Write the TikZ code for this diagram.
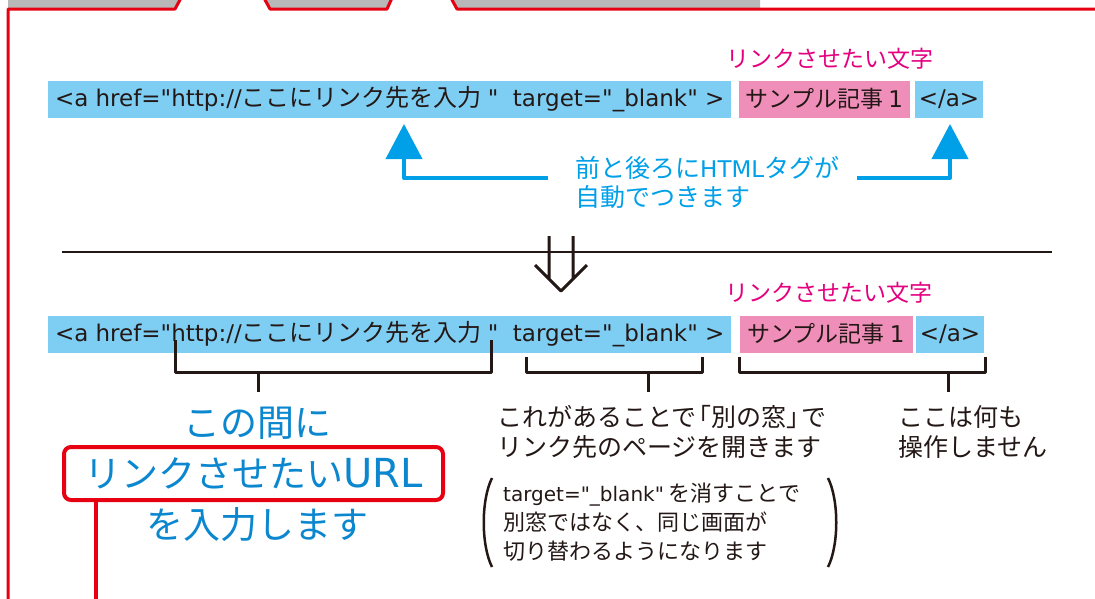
\documentclass[tikz,border=0pt]{standalone}
\usepackage{fontspec}
\setmainfont{Noto Sans CJK JP}
\newfontfamily\lat{DejaVu Sans}
\usetikzlibrary{arrows.meta,positioning}

\definecolor{codeblue}{HTML}{7ECEF4}
\definecolor{codepink}{HTML}{EF8FB9}
\definecolor{inkblack}{HTML}{231815}
\definecolor{linkmagenta}{HTML}{E4007F}
\definecolor{arrowcyan}{HTML}{00A0E9}
\definecolor{bigblue}{HTML}{0B87CF}
\definecolor{framered}{HTML}{E60012}

\newcommand{\latsize}{\fontsize{23pt}{28pt}\selectfont}

\begin{document}
\begin{tikzpicture}[x=1pt,y=-1pt,line join=round,
	codebar/.style={fill=codeblue,inner xsep=7pt,inner ysep=0pt,minimum height=37pt,text=inkblack,font=\fontsize{24pt}{28pt}\selectfont},
	pinkbar/.style={codebar,fill=codepink,inner xsep=3pt,font=\fontsize{23pt}{28pt}\selectfont},
	wishlabel/.style={text=linkmagenta,font=\fontsize{23pt}{26pt}\selectfont,inner sep=0pt},
	inkline/.style={draw=inkblack,line width=3pt},
	linkarrow/.style={draw=arrowcyan,line width=4pt,-{Triangle[length=35pt,width=36pt]}},
	explain/.style={text=inkblack,align=left,inner sep=0pt,font=\fontsize{25pt}{30pt}\selectfont},
	bigtext/.style={text=bigblue,inner sep=0pt,font=\fontsize{37pt}{44pt}\selectfont}]
	\useasboundingbox[fill=white] (0,0) rectangle (1095,598);
	
	% tabs of the window above
	\fill[black!28] (8,0) -- (181,0) -- (175,9) -- (8,9) -- cycle;
	\fill[black!28] (265,0) -- (390,0) -- (387,9) -- (270,9) -- cycle;
	\fill[black!28] (452,0) -- (760,0) -- (760,9) -- (457,9) -- cycle;
	\draw[framered,line width=3pt] (8,610) -- (8,9) -- (175,9) -- (181,-2);
	\draw[framered,line width=3pt] (264,-2) -- (270,9) -- (387,9) -- (392,-2);
	\draw[framered,line width=3pt] (451,-2) -- (457,9) -- (1100,9);
	
	% before
	\node[codebar] (tag1) at (389.5,99) {\makebox[669pt][l]{{\lat\latsize<a href="http://}ここにリンク先を入力{\lat\latsize\kern6pt"\ \ target="\_blank" >}}};
	\node[pinkbar,minimum width=171pt] (word1) at (824.5,99) {サンプル記事 {\lat\latsize 1}};
	\node[codebar,minimum width=68pt,inner xsep=0pt] (end1) at (949,99) {\lat\latsize </a>};
	\node[wishlabel] (wish1) at (830,59) {リンクさせたい文字};
	
	\node[text=arrowcyan,align=left,inner sep=0pt,anchor=west,font=\fontsize{25pt}{29pt}\selectfont] (note) at (575,182) {前と後ろに{\lat\fontsize{23pt}{29pt}\selectfont HTML}タグが\\自動でつきます};
	\coordinate (fromL) at (548,178);
	\coordinate (tipL) at (404,124);
	\coordinate (fromR) at (857,178);
	\coordinate (tipR) at (950,124);
	\draw[linkarrow] (fromL) -| (tipL);
	\draw[linkarrow] (fromR) -| (tipR);
	
	\draw[inkblack,line width=2pt] (62,252) -- (1052,252);
	\draw[inkline] (549,236) -- (549,279) (573,236) -- (573,279) (535,265) -- (561,291) -- (587,265);
	
	% after
	\node[codebar] (tag2) at (389.5,334) {\makebox[669pt][l]{{\lat\latsize<a href="http://}ここにリンク先を入力{\lat\latsize\kern6pt"\ \ target="\_blank" >}}};
	\node[pinkbar,minimum width=173pt] (word2) at (826,334) {サンプル記事 {\lat\latsize 1}};
	\node[codebar,minimum width=68pt,inner xsep=0pt] (end2) at (950,334) {\lat\latsize </a>};
	\node[wishlabel] (wish2) at (829,293) {リンクさせたい文字};
	
	\draw[inkline] (175,340) |- (491,372) -- (491,340);
	\draw[inkline] (258,372) -- (258,392);
	\draw[inkline] (526,357) |- (702,372) -- (702,357);
	\draw[inkline] (648,372) -- (648,392);
	\draw[inkline] (739,357) |- (985,372) -- (985,357);
	\draw[inkline] (948,372) -- (948,392);
	
	\node[bigtext] (between) at (257,423) {この間に};
	\node[bigtext,draw=framered,line width=4pt,rounded corners=7pt,minimum width=379pt,minimum height=53pt] (urlbox) at (253.5,473.5) {リンクさせたい{\lat\fontsize{40pt}{44pt}\selectfont URL}};
	\node[bigtext] (enter) at (257,525) {を入力します};
	\draw[framered,line width=4pt] ([xshift=34pt]urlbox.south west) -- ++(0,110);
	
	\node[explain,anchor=west] (newwin) at (497,432) {これがあることで\kern-.4em「別の窓」\kern-.4emで\\リンク先のページを開きます};
	\node[explain,anchor=west] (noop) at (898,432) {ここは何も\\操作しません};
	
	\node[explain,anchor=west,font=\fontsize{22pt}{29pt}\selectfont] (blanknote) at (503,522) {{\lat\fontsize{20pt}{29pt}\selectfont target="\_blank"} を消すことで\\別窓ではなく、同じ画面が\\切り替わるようになります};
	\draw[inkblack,line width=2.5pt] (492,478) .. controls (481,500) and (481,545) .. (492,567);
	\draw[inkblack,line width=2.5pt] (828,478) .. controls (839,500) and (839,545) .. (828,567);
\end{tikzpicture}
\end{document}
